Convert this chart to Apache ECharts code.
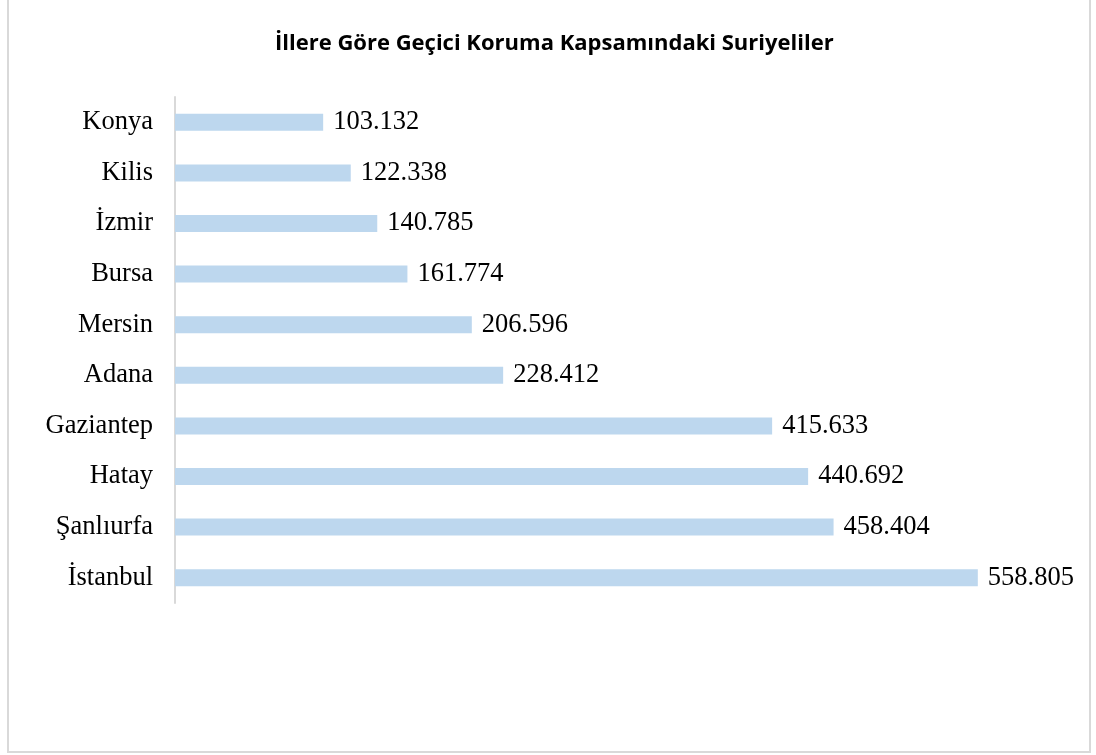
<!DOCTYPE html>
<html><head><meta charset="utf-8">
<script src="https://cdn.jsdelivr.net/npm/echarts@6/dist/echarts.min.js"></script>
<style>html,body{margin:0;padding:0;background:#fff}#c{width:1096px;height:755px}</style>
</head><body><div id="c"></div>
<script>
const categories = ["Konya","Kilis","İzmir","Bursa","Mersin","Adana","Gaziantep","Hatay","Şanlıurfa","İstanbul"];
const values = [103132,122338,140785,161774,206596,228412,415633,440692,458404,558805];
const titleText = "İllere Göre Geçici Koruma Kapsamındaki Suriyeliler";

function fmt(v){ return String(v).replace(/\B(?=(\d{3})+(?!\d))/g, "."); }

const chart = echarts.init(document.getElementById('c'), null, {renderer:'canvas'});
chart.setOption({
  animation:false,
  backgroundColor:'#fff',
  graphic:[{type:'rect', shape:{x:8,y:-2,width:1082,height:754}, style:{fill:'none', stroke:'#d9d9d9', lineWidth:2}, silent:true}],
  title:{text:titleText, left:270, top:28, textStyle:{fontFamily:'Open Sans', fontWeight:'bold', fontSize:22, color:'#000'}},
  grid:{left:175, top:97, width:862, height:506, containLabel:false},
  xAxis:{type:'value', min:0, max:600000, show:false},
  yAxis:{type:'category', data:categories, inverse:true,
    axisLine:{show:true, lineStyle:{color:'#d9d9d9', width:2}},
    axisTick:{show:false},
    axisLabel:{margin:22, fontFamily:'Liberation Serif', fontSize:26.5, color:'#000'}},
  series:[{type:'bar', data:values, barWidth:17,
    itemStyle:{color:'#bdd7ee'},
    label:{show:true, position:'right', distance:10, fontFamily:'Liberation Serif', fontSize:26.5, color:'#000', formatter:p=>fmt(p.value)}}]
});
</script></body></html>
